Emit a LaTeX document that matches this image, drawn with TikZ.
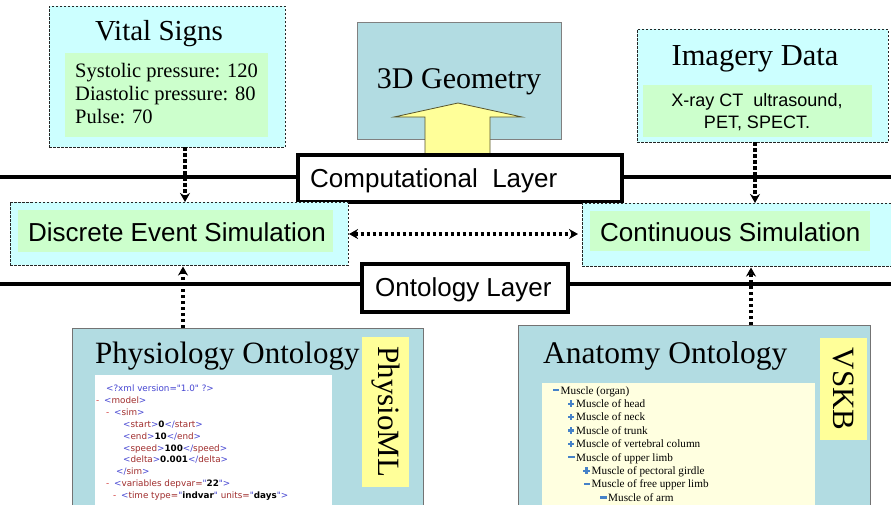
\documentclass[tikz,border=0pt]{standalone}
\usepackage{fontspec}
\setmainfont{Liberation Serif}
\newfontfamily\arialf{Liberation Sans}
\newfontfamily\codef{DejaVu Sans}
\usetikzlibrary{arrows.meta,calc}
\definecolor{paleCyan}{RGB}{204,255,255}
\definecolor{paleGreen}{RGB}{204,255,204}
\definecolor{teal1}{RGB}{178,220,226}
\definecolor{strip}{RGB}{255,255,153}
\definecolor{treebg}{RGB}{255,255,224}
\definecolor{xmlblue}{RGB}{70,70,210}
\definecolor{xmlbrown}{RGB}{160,45,45}
\definecolor{xmlred}{RGB}{210,60,60}
\definecolor{iconblue}{RGB}{70,130,200}
\newcommand\xb[1]{\textcolor{xmlblue}{#1}}
\newcommand\xn[1]{\textcolor{xmlbrown}{#1}}
\newcommand\xm[1]{\textcolor{xmlred}{#1}}
\begin{document}
\begin{tikzpicture}[x=1pt,y=-1pt,
  dbox/.style={draw=black!85,line width=0.8pt,dash pattern=on 2.5pt off 1.5pt,fill=paleCyan,inner sep=0pt,outer sep=0pt},
  gbox/.style={fill=paleGreen,inner sep=0pt,outer sep=0pt},
  tbox/.style={draw=black!55,line width=1pt,fill=teal1,inner sep=0pt,outer sep=0pt},
  ybox/.style={fill=strip,inner sep=0pt,outer sep=0pt},
  layerbox/.style={draw=black,line width=3.5pt,fill=white,inner sep=0pt,outer sep=0pt},
  layerline/.style={line width=3.5pt},
  dotarr/.style={line width=3.5pt,dash pattern=on 3.5pt off 2.5pt,-{Stealth[length=9pt,width=10pt]}},
  dotarrb/.style={line width=3.5pt,dash pattern=on 3.5pt off 2.5pt,{Stealth[length=9pt,width=10pt]}-{Stealth[length=9pt,width=10pt]}},
  titlef/.style={font=\fontsize{30}{34}\selectfont,anchor=base},
  sanslbl/.style={font=\arialf\fontsize{26}{30}\selectfont,anchor=base west,inner sep=0pt},
  codeline/.style={font=\codef\fontsize{8.8}{10}\selectfont,anchor=base west,inner sep=0pt},
  treeline/.style={font=\fontsize{11.2}{13}\selectfont,anchor=base west,inner sep=0pt}]
\useasboundingbox (0,0) rectangle (891,504);
\clip (0,0) rectangle (891,504);
\fill[white] (0,0) rectangle (891,504);

% Vital signs
\node[dbox,minimum width=236pt,minimum height=141pt] (vital) at (167,76.5) {};
\node[gbox,minimum width=203pt,minimum height=84pt] (vitalin) at (166.5,95) {};
\node[titlef,font=\fontsize{29}{33}\selectfont] (vitalT) at (159,40) {Vital Signs};
\node[anchor=base west,inner sep=0pt,font=\fontsize{20.5}{23}\selectfont] (vs1) at (75,77) {Systolic pressure: 120};
\node[anchor=base west,inner sep=0pt,font=\fontsize{20.5}{23}\selectfont] (vs2) at (75,100) {Diastolic pressure: 80};
\node[anchor=base west,inner sep=0pt,font=\fontsize{20.5}{23}\selectfont] (vs3) at (75,123) {Pulse: 70};

% 3D geometry
\node[tbox,draw=black!50,minimum width=204pt,minimum height=117pt] (geo) at (459,80.5) {};
\node[titlef] (geoT) at (459,88) {3D Geometry};
\draw[fill=strip,draw=black!50!olive,line width=0.8pt] (425,160) -- (425,117) -- (394,117) -- (458,103) -- (522,117) -- (490,117) -- (490,160) -- cycle;

% Imagery data
\node[dbox,minimum width=251pt,minimum height=113pt] (img) at (762.5,85.5) {};
\node[gbox,minimum width=229pt,minimum height=52pt] (imgin) at (757.5,111) {};
\node[titlef,font=\fontsize{30.5}{34}\selectfont] (imgT) at (755,65) {Imagery Data};
\node[anchor=base,inner sep=0pt,font=\arialf\fontsize{18}{22}\selectfont] (img1) at (757,106) {X-ray CT\ \ ultrasound,};
\node[anchor=base,inner sep=0pt,font=\arialf\fontsize{18}{22}\selectfont] (img2) at (757,128) {PET, SPECT.};

% Computational layer
\coordinate (cl) at (0,177);
\coordinate (cr) at (891,177);
\draw[layerline] (cl) -- (cr);
\node[layerbox,minimum width=324pt,minimum height=47pt] (comp) at (460,178.5) {};
\node[sanslbl] (compT) at (310,187) {Computational\ \ Layer};

% Simulations
\node[dbox,minimum width=338pt,minimum height=63pt] (des) at (179,233.5) {};
\node[gbox,minimum width=315pt,minimum height=42pt] (desin) at (175.5,231) {};
\node[sanslbl] (desT) at (28,241) {Discrete Event Simulation};
\node[dbox,minimum width=313pt,minimum height=63pt] (cs) at (738.5,234.5) {};
\node[gbox,minimum width=280pt,minimum height=40pt] (csin) at (730,231) {};
\node[sanslbl] (csT) at (600,241) {Continuous Simulation};

% Ontology layer
\coordinate (ol) at (0,284);
\coordinate (or) at (891,284);
\draw[layerline] (ol) -- (or);
\node[layerbox,minimum width=206pt,minimum height=48pt] (onto) at (465,288) {};
\node[sanslbl] (ontoT) at (375,296) {Ontology Layer};

% Physiology ontology
\node[tbox,minimum width=351pt,minimum height=192pt] (phys) at (247.5,424) {};
\node[anchor=base west,inner sep=0pt,font=\fontsize{31}{35}\selectfont] (physT) at (95,363) {Physiology Ontology};
\node[ybox,minimum width=47pt,minimum height=150pt] (pml) at (385.5,412) {};
\node[rotate=-90,inner sep=0pt,font=\fontsize{31}{35}\selectfont] (pmlT) at (pml.center) {PhysioML};
\node[fill=white,inner sep=0pt,outer sep=0pt,minimum width=237pt,minimum height=145pt] (code) at (213.5,447.5) {};
\node[codeline] (c1) at (106,391.5) {\xb{<?xml version="1.0" ?>}};
\node[codeline] (c2m) at (96,403.4) {\xm{-}};
\node[codeline] (c2) at (104,403.4) {\xb{<}\xn{model}\xb{>}};
\node[codeline] (c3m) at (106,415.3) {\xm{-}};
\node[codeline] (c3) at (114,415.3) {\xb{<}\xn{sim}\xb{>}};
\node[codeline] (c4) at (123,427.2) {\xb{<}\xn{start}\xb{>}\textbf{0}\xb{</}\xn{start}\xb{>}};
\node[codeline] (c5) at (123,439.1) {\xb{<}\xn{end}\xb{>}\textbf{10}\xb{</}\xn{end}\xb{>}};
\node[codeline] (c6) at (123,451) {\xb{<}\xn{speed}\xb{>}\textbf{100}\xb{</}\xn{speed}\xb{>}};
\node[codeline] (c7) at (123,462.9) {\xb{<}\xn{delta}\xb{>}\textbf{0.001}\xb{</}\xn{delta}\xb{>}};
\node[codeline] (c8) at (116,474.8) {\xb{</}\xn{sim}\xb{>}};
\node[codeline] (c9m) at (106,486.7) {\xm{-}};
\node[codeline] (c9) at (114,486.7) {\xb{<}\xn{variables depvar}\xn{=}\xb{"}\textbf{22}\xb{"}\xb{>}};
\node[codeline] (c10m) at (113,498.6) {\xm{-}};
\node[codeline] (c10) at (121,498.6) {\xb{<}\xn{time type}\xn{=}\xb{"}\textbf{indvar}\xb{"} \xn{units}\xn{=}\xb{"}\textbf{days}\xb{"}\xb{>}};

% Anatomy ontology
\node[tbox,minimum width=352pt,minimum height=195pt] (anat) at (694,422.5) {};
\node[anchor=base west,inner sep=0pt,font=\fontsize{31.5}{35}\selectfont] (anatT) at (543,363) {Anatomy Ontology};
\node[ybox,minimum width=47pt,minimum height=102pt] (vskb) at (843.5,389) {};
\node[rotate=-90,inner sep=0pt,font=\fontsize{31}{35}\selectfont] (vskbT) at (vskb.center) {VSKB};
\node[fill=treebg,inner sep=0pt,outer sep=0pt,minimum width=273pt,minimum height=137pt] (tree) at (678.5,451.5) {};
\foreach \i/\tx/\ic/\txt in {1/560.5/m/{Muscle (organ)},2/576/p/{Muscle of head},3/576/p/{Muscle of neck},4/576/p/{Muscle of trunk},5/576/p/{Muscle of vertebral column},6/576/m/{Muscle of upper limb},7/591.5/p/{Muscle of pectoral girdle},8/591.5/m/{Muscle of free upper limb},9/608/m/{Muscle of arm}}{
  \pgfmathsetmacro{\by}{394+(\i-1)*13.4}
  \node[treeline] (t\i) at (\tx,\by) {\txt};
  \if\ic m
    \fill[iconblue] ($(t\i.base west)+(-8,-3.8)$) ++(0,-1.2) rectangle ++(6.5,2.4);
  \else
    \fill[iconblue] ($(t\i.base west)+(-5,-3.8)$) ++(-3.2,-1.1) rectangle ++(6.4,2.2);
    \fill[iconblue] ($(t\i.base west)+(-5,-3.8)$) ++(-1.1,-3.2) rectangle ++(2.2,6.4);
  \fi
}

% Connectors
\draw[dotarr] ([xshift=18pt]vital.south) -- ([xshift=18pt]vital.south |- des.north);
\draw[dotarr] ([xshift=-7.5pt]img.south) -- ([xshift=-7.5pt]img.south |- cs.north);
\draw[dotarr,shorten >=1.5pt] ([xshift=-64.5pt]phys.north) -- ([xshift=-64.5pt]phys.north |- des.south);
\draw[dotarr,shorten >=1.5pt] ([xshift=57pt]anat.north) -- ([xshift=57pt]anat.north |- cs.south);
\draw[dotarrb,shorten <=1pt,shorten >=4pt] ([yshift=-0.5pt]des.east) -- ([yshift=-0.5pt]des.east -| cs.west);
\end{tikzpicture}
\end{document}
